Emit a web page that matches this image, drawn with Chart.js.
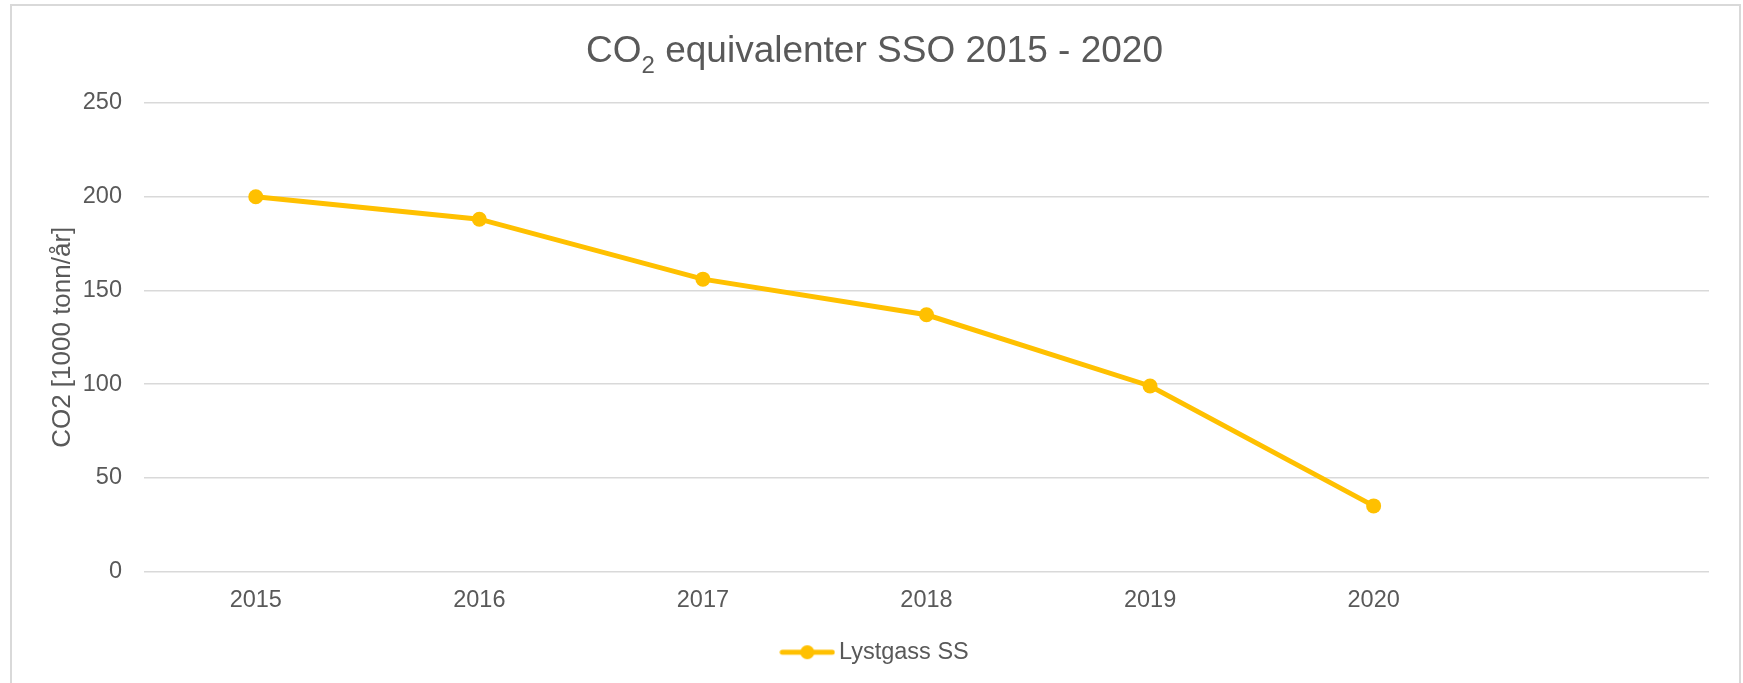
<!DOCTYPE html>
<html>
<head>
<meta charset="utf-8">
<script src="https://cdn.jsdelivr.net/npm/chart.js@4/dist/chart.umd.min.js"></script>
<style>
  html, body { margin: 0; padding: 0; background: #ffffff; overflow: hidden; }
  #wrap { position: relative; width: 1743px; height: 683px; }
  #frame { position: absolute; left: 10px; top: 4px; width: 1727px; height: 700px;
           border: 2px solid #d9d9d9; pointer-events: none; }
</style>
</head>
<body>
<div id="wrap">
  <canvas id="co2Chart" width="1743" height="683"></canvas>
  <div id="frame"></div>
</div>
<script>
// data
var years = ['2015', '2016', '2017', '2018', '2019', '2020', ''];
var lystgassSS = [200, 188, 156, 137, 99, 35];
var yTicks = [0, 50, 100, 150, 200, 250];
var seriesName = 'Lystgass SS';
var yTitle = 'CO2 [1000 tonn/år]';

var gold = '#FFC000';
var grey = '#595959';
var font = "'Liberation Sans', Arial, sans-serif";

// legend symbol: a short line with the marker in the middle
var symbol = document.createElement('canvas');
symbol.width = 56;
symbol.height = 16;
var sctx = symbol.getContext('2d');
sctx.strokeStyle = gold;
sctx.lineWidth = 5;
sctx.lineCap = 'round';
sctx.beginPath();
sctx.moveTo(3, 8);
sctx.lineTo(53, 8);
sctx.stroke();
sctx.fillStyle = gold;
sctx.beginPath();
sctx.arc(28, 8, 7, 0, Math.PI * 2);
sctx.fill();

// title with a subscript 2, Chart.js title can't do that
var subTitle = {
  id: 'subTitle',
  afterDraw: function(chart) {
    var ctx = chart.ctx;
    var big = '37px ' + font;
    var small = '24px ' + font;
    var a = 'CO', b = '2', c = ' equivalenter SSO 2015 - 2020';
    ctx.save();
    ctx.fillStyle = grey;
    ctx.textBaseline = 'alphabetic';
    ctx.font = big;
    var wa = ctx.measureText(a).width;
    var wc = ctx.measureText(c).width;
    ctx.font = small;
    var wb = ctx.measureText(b).width;
    var x = chart.width / 2 + 3 - (wa + wb + wc) / 2;
    var y = 62;
    ctx.font = big;
    ctx.fillText(a, x, y);
    ctx.font = small;
    ctx.fillText(b, x + wa, y + 11);
    ctx.font = big;
    ctx.fillText(c, x + wa + wb, y);
    ctx.restore();
  }
};

var ctx = document.getElementById('co2Chart').getContext('2d');
var co2Chart = new Chart(ctx, {
  type: 'line',
  data: {
    labels: years,
    datasets: [{
      label: seriesName,
      data: lystgassSS,
      borderColor: gold,
      backgroundColor: gold,
      borderWidth: 5,
      pointRadius: 7.5,
      pointHoverRadius: 7.5,
      pointBorderWidth: 0,
      pointStyle: 'circle',
      tension: 0,
      fill: false
    }]
  },
  options: {
    responsive: false,
    animation: false,
    layout: {
      padding: { left: 47, right: 34, top: 103, bottom: 9 }
    },
    plugins: {
      title: { display: false },
      tooltip: { enabled: false },
      legend: {
        position: 'bottom',
        labels: {
          color: grey,
          font: { family: font, size: 23.5 },
          usePointStyle: true,
          pointStyleWidth: 40,
          padding: 21,
          generateLabels: function(chart) {
            var items = Chart.defaults.plugins.legend.labels.generateLabels(chart);
            items.forEach(function(item) { item.pointStyle = symbol; });
            return items;
          }
        }
      }
    },
    scales: {
      x: {
        type: 'category',
        offset: true,
        grid: { display: false, drawTicks: false },
        border: { display: false },
        ticks: {
          color: grey,
          font: { family: font, size: 23.5 },
          padding: 15,
          maxRotation: 0,
          autoSkip: false
        },
        afterFit: function(scale) { scale.height = 48; }
      },
      y: {
        min: yTicks[0],
        max: yTicks[yTicks.length - 1],
        grid: { color: '#d9d9d9', lineWidth: 1.5, drawTicks: false },
        border: { display: false },
        ticks: {
          stepSize: yTicks[1] - yTicks[0],
          color: grey,
          font: { family: font, size: 23.5 },
          padding: 22
        },
        title: {
          display: true,
          text: yTitle,
          color: grey,
          font: { family: font, size: 26 },
          padding: 0
        },
        afterFit: function(scale) { scale.width = 97; }
      }
    }
  },
  plugins: [subTitle]
});
</script>
</body>
</html>
